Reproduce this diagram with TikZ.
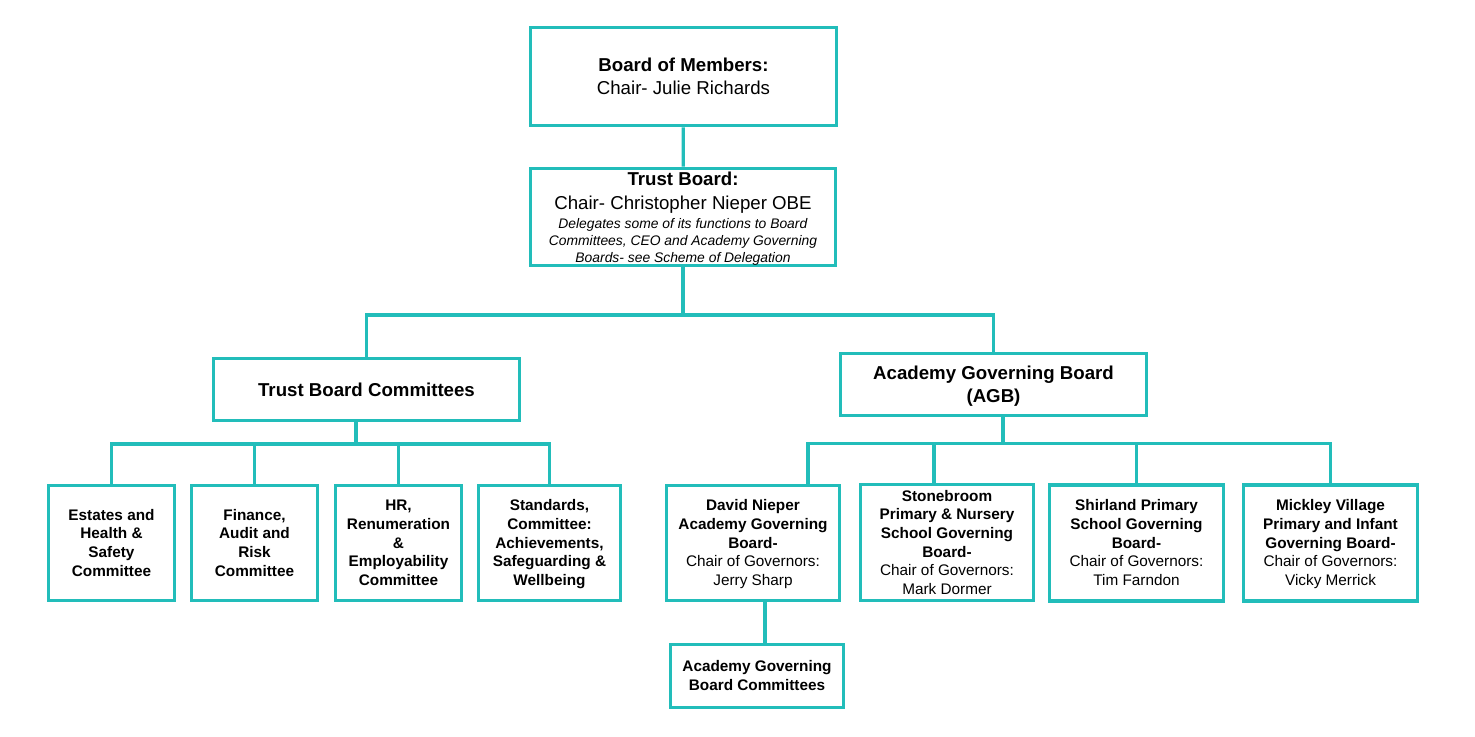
\documentclass[tikz,border=0pt]{standalone}
\usepackage{fontspec}
\setmainfont{Liberation Sans}
\usepackage{tikz}
\definecolor{orgcol}{RGB}{34,189,186}
% strut with the line box of the font (ascent and descent)
\newcommand{\boxstrut}{\rule[-0.212em]{0pt}{1.117em}}

\begin{document}
\begin{tikzpicture}[x=0.75pt, y=-0.75pt,
        orgbox/.style={draw=orgcol, line width=2.4pt, fill=white, inner sep=0pt, align=center, text=black},
        bigtext/.style={font=\fontsize{14}{16.7}\selectfont},
        smalltext/.style={font=\fontsize{11.5}{14}\selectfont},
        link/.style={draw=orgcol, line width=2.4pt}]
        \useasboundingbox (0,0) rectangle (1475,737);

        % top of the tree
        \node [orgbox, bigtext, minimum width=229.5pt, minimum height=74pt] (members) at (683.5,76.5)
            {\boxstrut\textbf{Board of Members:}\\Chair- Julie Richards\boxstrut};
        \node [orgbox, minimum width=229pt, minimum height=73pt, font=\fontsize{10.4}{12.5}\selectfont] (trust) at (683,217)
            {{\fontsize{14}{16.7}\selectfont\bfseries\boxstrut Trust Board:}\\[3.8pt]
             {\fontsize{14}{16.7}\selectfont Chair- Christopher Nieper OBE}\\[2pt]
             \textit{Delegates some of its functions to Board}\\
             \textit{Committees, CEO and Academy Governing}\\
             \textit{Boards- see Scheme of Delegation}\boxstrut};

        \node [orgbox, bigtext, minimum width=229.5pt, minimum height=46.5pt] (tbc) at (366.5,389.5)
            {\textbf{Trust Board Committees}};
        \node [orgbox, minimum width=229.5pt, minimum height=46.5pt, font=\fontsize{14}{17}\selectfont] (agb) at (993.5,384.5)
            {\boxstrut\textbf{Academy Governing Board}\\\textbf{(AGB)}\boxstrut};

        % trust board committees
        \node [orgbox, smalltext, minimum width=94.5pt, minimum height=86.25pt] (estates) at (111.5,543)
            {\boxstrut\textbf{Estates and}\\\textbf{Health \&}\\\textbf{Safety}\\\textbf{Committee}\boxstrut};
        \node [orgbox, smalltext, minimum width=94.5pt, minimum height=86.25pt] (finance) at (254.5,543)
            {\boxstrut\textbf{Finance,}\\\textbf{Audit and}\\\textbf{Risk}\\\textbf{Committee}\boxstrut};
        \node [orgbox, smalltext, minimum width=94.5pt, minimum height=86.25pt] (hr) at (398.5,543)
            {\boxstrut\textbf{HR,}\\\textbf{Renumeration}\\\textbf{\&}\\\textbf{Employability}\\\textbf{Committee}\boxstrut};
        \node [orgbox, smalltext, minimum width=106.5pt, minimum height=86.25pt] (standards) at (549.5,543)
            {\boxstrut\textbf{Standards,}\\\textbf{Committee:}\\\textbf{Achievements,}\\\textbf{Safeguarding \&}\\\textbf{Wellbeing}\boxstrut};

        % academy governing boards
        \node [orgbox, smalltext, minimum width=130pt, minimum height=86.25pt] (david) at (753,543)
            {\boxstrut\textbf{David Nieper}\\\textbf{Academy Governing}\\\textbf{Board-}\\Chair of Governors:\\Jerry Sharp\boxstrut};
        \node [orgbox, smalltext, minimum width=130pt, minimum height=87pt] (stone) at (947,542.5)
            {\boxstrut\textbf{Stonebroom}\\\textbf{Primary \& Nursery}\\\textbf{School Governing}\\\textbf{Board-}\\Chair of Governors:\\Mark Dormer\boxstrut};
        \node [orgbox, smalltext, minimum width=130.5pt, minimum height=87pt] (shirland) at (1136.5,543)
            {\boxstrut\textbf{Shirland Primary}\\\textbf{School Governing}\\\textbf{Board-}\\Chair of Governors:\\Tim Farndon\boxstrut};
        \node [orgbox, smalltext, minimum width=130.5pt, minimum height=87pt] (mickley) at (1330.5,543)
            {\boxstrut\textbf{Mickley Village}\\\textbf{Primary and Infant}\\\textbf{Governing Board-}\\Chair of Governors:\\Vicky Merrick\boxstrut};
        \node [orgbox, smalltext, minimum width=129.75pt, minimum height=47.25pt] (agbc) at (757,676)
            {\boxstrut\textbf{Academy Governing}\\\textbf{Board Committees}\boxstrut};

        % connectors
        \coordinate (topbus) at (683,315);
        \coordinate (tbcbus) at (356,444);
        \coordinate (agbbus) at (1003,443.5);
        \coordinate (davidin) at (808,443.5);
        \coordinate (stonein) at (934,443.5);
        \coordinate (agbcin) at (765,620);

        \draw [link] (members) -- (trust);
        \draw [link] (trust) -- (topbus);
        \draw [link] (tbc) |- (topbus) -| (agb);

        \draw [link] (tbc.south -| tbcbus) -- (tbcbus);
        \draw [link] (estates) |- (tbcbus) -| (standards);
        \draw [link] (finance) -- (finance |- tbcbus);
        \draw [link] (hr) -- (hr |- tbcbus);

        \draw [link] (agb.south -| agbbus) -- (agbbus);
        \draw [link] (davidin |- david.north) -- (davidin) -| (mickley);
        \draw [link] (stonein) -- (stonein |- stone.north);
        \draw [link] (shirland) -- (shirland |- agbbus);
        \draw [link] (agbcin |- david.south) -- (agbcin |- agbc.north);
    \end{tikzpicture}
\end{document}
